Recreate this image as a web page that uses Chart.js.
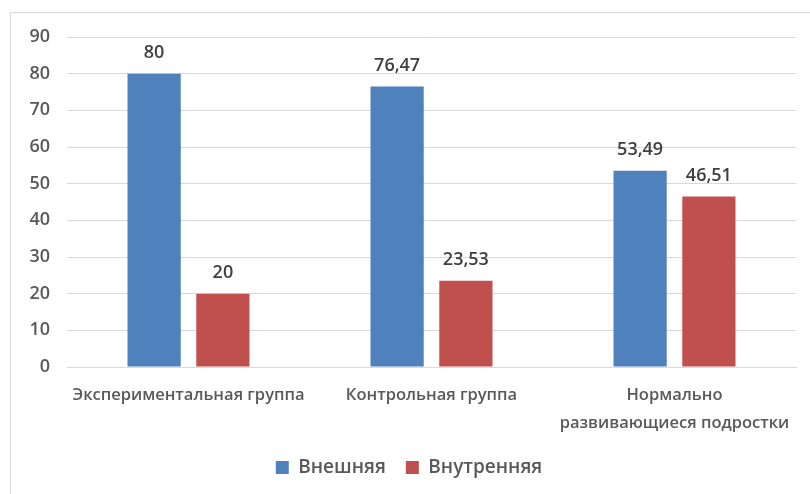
<!DOCTYPE html>
<html>
<head>
<meta charset="utf-8">
<script src="https://cdn.jsdelivr.net/npm/chart.js@4/dist/chart.umd.min.js"></script>
<style>
  body { margin: 0; background: #fff; }
  #frame {
    position: absolute; left: 10px; top: 12px; right: -5px; bottom: -5px;
    border-top: 1px solid #d9d9d9; border-left: 1px solid #d9d9d9;
  }
  #wrap { position: absolute; left: 0; top: 0; width: 810px; height: 494px; }
</style>
</head>
<body>
<div id="frame"></div>
<div id="wrap"><canvas id="chart" width="810" height="494"></canvas></div>
<script>
const categories = [
  "Экспериментальная группа",
  "Контрольная группа",
  ["Нормально", "развивающиеся подростки"]
]
const seriesNames = ["Внешняя", "Внутренняя"]
const outerValues = [80, 76.47, 53.49]
const innerValues = [20, 23.53, 46.51]
const yTicks = [0, 10, 20, 30, 40, 50, 60, 70, 80, 90]

const FONT = "'Open Sans', 'DejaVu Sans', sans-serif"

function formatValue(v) {
  return String(v).replace(".", ",")
}

// value labels over the bars
const barValueLabels = {
  id: "barValueLabels",
  afterDatasetsDraw(chart) {
    const ctx = chart.ctx
    ctx.save()
    ctx.font = "600 18px " + FONT
    ctx.fillStyle = "#404040"
    ctx.textAlign = "center"
    ctx.textBaseline = "middle"
    chart.data.datasets.forEach((ds, i) => {
      chart.getDatasetMeta(i).data.forEach((bar, j) => {
        ctx.fillText(formatValue(ds.data[j]), bar.x, bar.y - 21)
      })
    })
    ctx.restore()
  }
}

new Chart(document.getElementById("chart"), {
  type: "bar",
  data: {
    labels: categories,
    datasets: [
      { label: seriesNames[0], data: outerValues, backgroundColor: "#4F81BD" },
      { label: seriesNames[1], data: innerValues, backgroundColor: "#C0504D" }
    ]
  },
  options: {
    responsive: false,
    animation: false,
    devicePixelRatio: 1,
    categoryPercentage: 0.566,
    barPercentage: 0.774,
    layout: { padding: { left: 22, right: 14, top: 37, bottom: 7 } },
    scales: {
      x: {
        grid: { display: false },
        border: { color: "#d9d9d9" },
        ticks: {
          color: "#595959",
          font: { family: FONT, size: 16.5, weight: "600", lineHeight: 1.65 },
          padding: 7,
          maxRotation: 0,
          autoSkip: false
        },
        afterFit: s => { s.height = 71 }
      },
      y: {
        min: 0,
        max: 90,
        afterBuildTicks: s => { s.ticks = yTicks.map(v => ({ value: v })) },
        grid: { color: "#d9d9d9", drawTicks: false },
        border: { display: false },
        ticks: {
          color: "#595959",
          font: { family: FONT, size: 18, weight: "600" },
          padding: 17
        },
        afterFit: s => { s.width = 45 }
      }
    },
    plugins: {
      legend: {
        position: "bottom",
        labels: {
          color: "#595959",
          font: { family: FONT, size: 19, weight: "600" },
          boxWidth: 13,
          boxHeight: 13,
          padding: 20
        }
      },
      tooltip: { enabled: false }
    }
  },
  plugins: [barValueLabels]
})
</script>
</body>
</html>
